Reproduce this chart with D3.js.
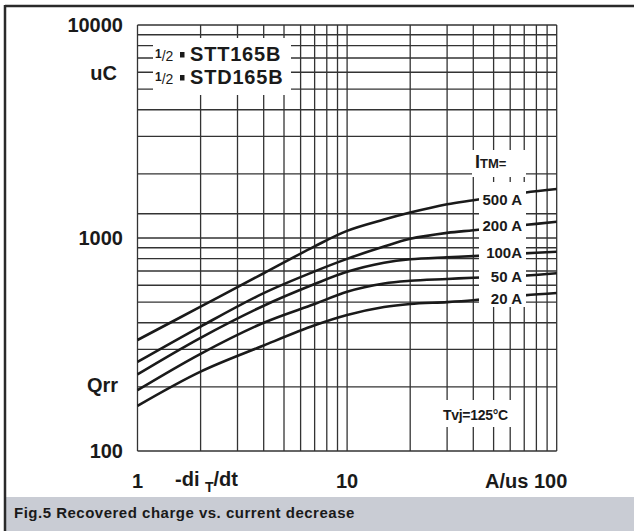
<!DOCTYPE html>
<html>
<head>
<meta charset="utf-8">
<script src="https://cdn.jsdelivr.net/npm/d3@7"></script>
<style>
  body { margin: 0; background: #fff; }
  text { font-family: "Liberation Sans", Arial, sans-serif; font-weight: bold; fill: #1a1a1a; }
</style>
</head>
<body>
<script>
// -di/dt values (A/us) where the curves were read
var diDt = [1, 2, 4, 7, 10, 15, 20, 30, 40, 70, 100];

// Qrr (uC) per ITM
var q500 = [332, 476, 683, 914, 1080, 1220, 1316, 1440, 1505, 1632, 1698];
var q200 = [262, 384, 551, 697, 798, 912, 991, 1057, 1088, 1150, 1191];
var q100 = [229, 340, 481, 608, 694, 765, 795, 812, 822, 847, 862];
var q50  = [193, 286, 400, 490, 560, 612, 630, 642, 651, 666, 683];
var q20  = [163, 236, 313, 389, 435, 474, 490, 500, 510, 538, 552];

var seriesNames = ["500 A", "200 A", "100A", "50 A", "20 A"];

var xGrid = [1,2,3,4,5,6,7,8,9,10,20,30,40,50,60,70,80,90,100];
var yGrid = [100,200,300,400,500,600,700,800,900,1000,1300,2000,3000,4000,5000,6000,7000,8000,9000,10000];

var yTicks = [10000, 1000, 100];
var xTicks = [1, 10];

var width = 634, height = 531;

var svg = d3.select("body").append("svg")
    .attr("width", width)
    .attr("height", height);

// frame
svg.append("rect").attr("x", 5).attr("y", 497).attr("width", 629).attr("height", 34)
    .attr("fill", "#c9ccd4");
svg.append("line").attr("x1", 5).attr("x2", 634).attr("y1", 6).attr("y2", 6)
    .attr("stroke", "#2a2a2a").attr("stroke-width", 2.5);
svg.append("line").attr("x1", 5).attr("x2", 5).attr("y1", 5).attr("y2", 531)
    .attr("stroke", "#2a2a2a").attr("stroke-width", 2.5);

var x = d3.scaleLog().domain([1, 100]).range([137.5, 556.7]);
var y = d3.scaleLog().domain([100, 10000]).range([451, 25]);

// grid
svg.append("g").selectAll("line").data(xGrid).enter().append("line")
    .attr("x1", function (d) { return x(d); })
    .attr("x2", function (d) { return x(d); })
    .attr("y1", y(100)).attr("y2", y(10000))
    .attr("stroke", "#333").attr("stroke-width", 1.3);

svg.append("g").selectAll("line").data(yGrid).enter().append("line")
    .attr("y1", function (d) { return y(d); })
    .attr("y2", function (d) { return y(d); })
    .attr("x1", x(1)).attr("x2", x(100))
    .attr("stroke", "#333").attr("stroke-width", 1.3);

// curves
var allSeries = [q500, q200, q100, q50, q20];
var line = d3.line()
    .x(function (d, i) { return x(diDt[i]); })
    .y(function (d) { return y(d); })
    .curve(d3.curveCatmullRom.alpha(0.5));

svg.append("g").selectAll("path").data(allSeries).enter().append("path")
    .attr("d", line)
    .attr("fill", "none")
    .attr("stroke", "#1a1a1a")
    .attr("stroke-width", 2.6);

// white label boxes
var boxes = [[153, 38, 138, 57], [472, 150, 54, 27], [479, 182, 47, 125], [441, 400, 74, 27]];
svg.append("g").selectAll("rect").data(boxes).enter().append("rect")
    .attr("x", function (d) { return d[0]; })
    .attr("y", function (d) { return d[1]; })
    .attr("width", function (d) { return d[2]; })
    .attr("height", function (d) { return d[3]; })
    .attr("fill", "#fff");

// series labels
var labelY = [205, 231, 258, 281.5, 303.5];
svg.append("g").selectAll("text").data(seriesNames).enter().append("text")
    .attr("x", 522)
    .attr("y", function (d, i) { return labelY[i]; })
    .attr("text-anchor", "end")
    .attr("font-size", 15)
    .text(function (d) { return d; });

var itm = svg.append("text").attr("x", 475).attr("y", 168);
itm.append("tspan").attr("font-size", 18).text("I");
itm.append("tspan").attr("font-size", 13).text("TM=");

svg.append("text").attr("x", 443).attr("y", 420).attr("font-size", 14)
    .attr("letter-spacing", -0.3).text("Tvj=125°C");

// device names
var names = ["STT165B", "STD165B"];
var nameY = [61, 84];
names.forEach(function (n, i) {
    var t = svg.append("text").attr("x", 155).attr("y", nameY[i]);
    t.append("tspan").attr("font-size", 12).attr("dy", -3).text("1");
    t.append("tspan").attr("font-size", 14).attr("dy", 3).attr("font-weight", "normal").text("/2");
    svg.append("rect").attr("x", 180).attr("y", nameY[i] - 9).attr("width", 4.5).attr("height", 5.5)
        .attr("fill", "#1a1a1a");
    svg.append("text").attr("x", 190).attr("y", nameY[i]).attr("font-size", 20)
        .attr("letter-spacing", 0.8).text(n);
});

// axis tick labels
svg.append("g").selectAll("text").data(yTicks).enter().append("text")
    .attr("x", 123)
    .attr("y", function (d) { return y(d) + 7; })
    .attr("text-anchor", "end")
    .attr("font-size", 20)
    .text(function (d) { return d; });

svg.append("text").attr("x", 117).attr("y", 80).attr("text-anchor", "end").attr("font-size", 20).text("uC");
svg.append("text").attr("x", 118).attr("y", 392).attr("text-anchor", "end").attr("font-size", 20).text("Qrr");

svg.append("g").selectAll("text").data(xTicks).enter().append("text")
    .attr("x", function (d) { return x(d); })
    .attr("y", 488)
    .attr("text-anchor", "middle")
    .attr("font-size", 20)
    .text(function (d) { return d; });

var xl = svg.append("text").attr("x", 175).attr("y", 486).attr("font-size", 20);
xl.append("tspan").text("-di ");
xl.append("tspan").attr("font-size", 14).attr("dy", 6).text("T");
xl.append("tspan").attr("dy", -6).text("/dt");

svg.append("text").attr("x", 485).attr("y", 488).attr("font-size", 20).text("A/us 100");

svg.append("text").attr("x", 14).attr("y", 518).attr("font-size", 15)
    .attr("letter-spacing", 0.5)
    .text("Fig.5 Recovered charge vs. current decrease");
</script>
</body>
</html>
